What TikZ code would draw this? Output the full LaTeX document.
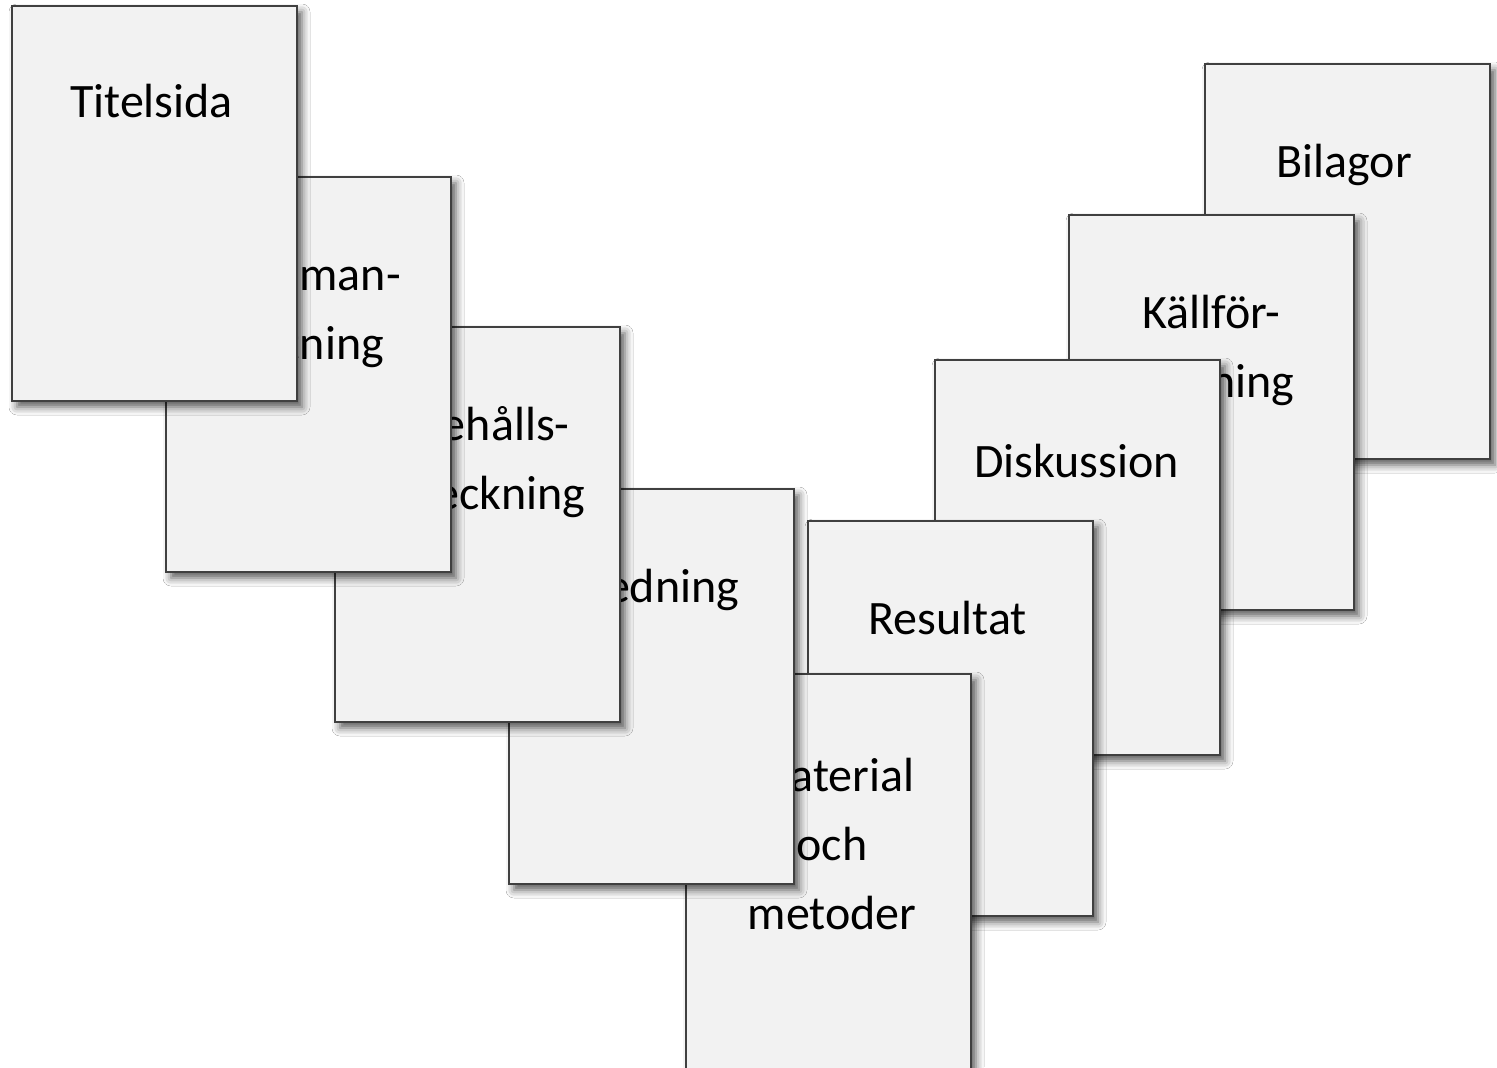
\documentclass[tikz,border=0pt]{standalone}
\usepackage{fontspec}
\setmainfont{Carlito}
\usetikzlibrary{shadows.blur}
\definecolor{cardfill}{HTML}{F2F2F2}
\definecolor{cardline}{HTML}{404040}
\tikzset{
  card/.style={draw=cardline, line width=1pt, fill=cardfill,
    minimum width=142.5pt, minimum height=197.5pt, inner sep=0pt,
    anchor=north west,
    blur shadow={shadow xshift=2.5pt, shadow yshift=-3pt,
      shadow blur radius=4pt, shadow opacity=65}},
  cardtext/.style={font=\fontsize{24}{34.5}\selectfont, align=center,
    inner sep=0pt, anchor=north, text=black},
}
\newcommand\firstline{\rule{0pt}{20pt}}
\begin{document}
\begin{tikzpicture}[x=0.5pt,y=-0.5pt]
\clip (0,0) rectangle (1497,1067);
\fill[white] (0,0) rectangle (1497,1067);
% drawn back to front
\node[card] (bil) at (1204,63) {};
\node[cardtext] (bilT) at ([xshift=-1.75pt,yshift=-37pt]bil.north) {\firstline Bilagor};
\node[card] (kall) at (1068,214) {};
\node[cardtext] (kallT) at ([xshift=0pt,yshift=-37pt]kall.north) {\firstline Källför-\\teckning};
\node[card] (disk) at (934,359) {};
\node[cardtext] (diskT) at ([xshift=-0.5pt,yshift=-39pt]disk.north) {\firstline Diskussion};
\node[card] (res) at (807,520) {};
\node[cardtext] (resT) at ([xshift=-1.5pt,yshift=-37pt]res.north) {\firstline Resultat};
\node[card] (mat) at (685,673) {};
\node[cardtext] (matT) at ([xshift=1.75pt,yshift=-39pt]mat.north) {\firstline Material\\och\\metoder};
\node[card] (inl) at (508,488) {};
\node[cardtext] (inlT) at ([xshift=-1.5pt,yshift=-37pt]inl.north) {\firstline Inledning};
\node[card] (inn) at (334,326) {};
\node[cardtext] (innT) at ([xshift=-1.5pt,yshift=-37pt]inn.north) {\firstline Innehålls-\\förteckning};
\node[card] (sam) at (165,176) {};
\node[cardtext] (samT) at ([xshift=0pt,yshift=-37pt]sam.north) {\firstline Samman-\\fattning};
\node[card] (tit) at (11,5) {};
\node[cardtext] (titT) at ([xshift=-1.5pt,yshift=-36pt]tit.north) {\firstline Titelsida};
\end{tikzpicture}
\end{document}
